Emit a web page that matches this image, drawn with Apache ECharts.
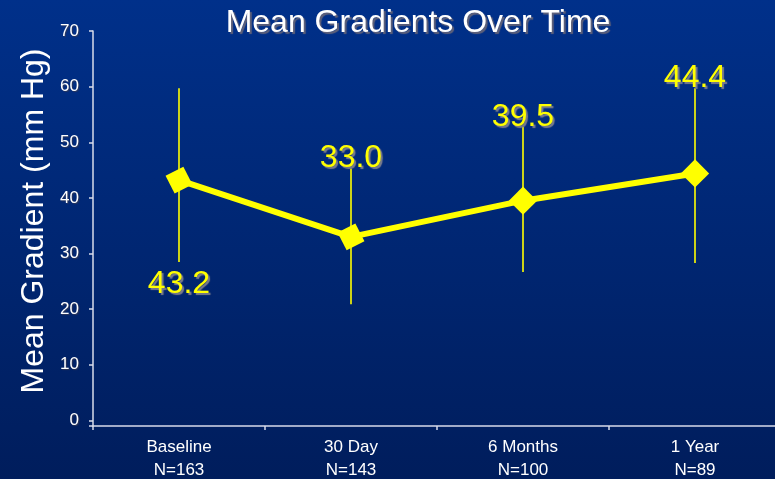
<!DOCTYPE html>
<html>
<head>
<meta charset="utf-8">
<script src="https://cdn.jsdelivr.net/npm/echarts@6/dist/echarts.min.js"></script>
<style>
  html, body { margin: 0; padding: 0; background: #00266f; }
  #chart { width: 775px; height: 479px; }
</style>
</head>
<body>
<div id="chart"></div>
<script>
// Visit categories (two-line axis labels) and patient counts
const visits = ['Baseline', '30 Day', '6 Months', '1 Year'];
const counts = ['N=163', 'N=143', 'N=100', 'N=89'];

// Mean gradient (mm Hg) and the ends of each error bar
const meanGradient = [43.2, 33.0, 39.5, 44.4];
const barLow  = [28.5, 20.9, 26.7, 28.3];
const barHigh = [59.7, 45.3, 52.8, 59.7];

// Y axis tick values
const yTicks = [0, 10, 20, 30, 40, 50, 60, 70];

const YELLOW = '#FFFF00';
const FONT = '"Liberation Sans", Arial, sans-serif';

const categoryLabels = visits.map((v, i) => v + '\n' + counts[i]);
const errorData = visits.map((v, i) => [i, barLow[i], barHigh[i], meanGradient[i]]);

// marker tilt follows the line a little
const markerTilt = [27, 27, 45, 45];
// value label sits under the bar for the first visit, above for the others
const labelBelow = [true, false, false, false];

const chart = echarts.init(document.getElementById('chart'), null, { renderer: 'canvas' });

chart.setOption({
  animation: false,
  backgroundColor: {
    type: 'linear', x: 0, y: 0, x2: 0, y2: 1,
    colorStops: [
      { offset: 0, color: '#00308A' },
      { offset: 1, color: '#001D5C' }
    ]
  },
  grid: {
    left: 93, width: 688, top: 31, bottom: 53,
    containLabel: false, outerBoundsMode: 'none'
  },
  graphic: [
    {
      type: 'text',
      x: 418, y: 23,
      style: {
        text: 'Mean Gradients Over Time',
        fill: '#FFFFFF',
        font: '32px ' + FONT,
        textAlign: 'center',
        textVerticalAlign: 'middle',
        textShadowColor: 'rgba(100,100,120,0.95)',
        textShadowOffsetX: 2, textShadowOffsetY: 2, textShadowBlur: 1
      }
    },
    {
      type: 'text',
      x: 34, y: 221,
      rotation: Math.PI / 2,
      style: {
        text: 'Mean Gradient (mm Hg)',
        fill: '#FFFFFF',
        font: '32px ' + FONT,
        textAlign: 'center',
        textVerticalAlign: 'middle'
      }
    }
  ],
  xAxis: {
    type: 'category',
    data: categoryLabels,
    boundaryGap: true,
    axisLine: { onZero: false, lineStyle: { color: '#D8DCEA', width: 1.5 } },
    axisTick: { show: true, length: 4, lineStyle: { color: '#D8DCEA', width: 1.5 } },
    axisLabel: {
      color: '#FFFFFF',
      fontFamily: FONT,
      fontSize: 17,
      lineHeight: 23,
      margin: 10,
      interval: 0
    },
    splitLine: { show: false }
  },
  yAxis: {
    type: 'value',
    min: -1,
    max: 70,
    axisLine: { show: true, lineStyle: { color: '#D8DCEA', width: 1.5 } },
    axisTick: {
      show: true, length: 4, customValues: [-1].concat(yTicks),
      lineStyle: { color: '#D8DCEA', width: 1.5 }
    },
    axisLabel: {
      customValues: yTicks,
      color: '#FFFFFF',
      fontFamily: FONT,
      fontSize: 17,
      margin: 14,
      textShadowColor: 'rgba(60,60,80,0.8)',
      textShadowOffsetX: 1, textShadowOffsetY: 1, textShadowBlur: 1
    },
    splitLine: { show: false }
  },
  series: [
    {
      name: 'Range',
      type: 'custom',
      data: errorData,
      z: 1,
      renderItem: function (params, api) {
        const i = api.value(0);
        const lo = api.coord([i, api.value(1)]);
        const hi = api.coord([i, api.value(2)]);
        const mean = api.value(3);
        const below = labelBelow[params.dataIndex];
        return {
          type: 'group',
          children: [
            {
              type: 'line',
              shape: { x1: hi[0], y1: hi[1], x2: lo[0], y2: lo[1] },
              style: { stroke: YELLOW, lineWidth: 1.6 }
            },
            {
              type: 'text',
              z2: 10,
              style: {
                text: mean.toFixed(1),
                x: hi[0],
                y: below ? lo[1] + 22 : hi[1] - 10,
                fill: YELLOW,
                font: '32px ' + FONT,
                textAlign: 'center',
                textVerticalAlign: 'middle',
                textShadowColor: 'rgba(130,130,140,0.95)',
                textShadowOffsetX: 2, textShadowOffsetY: 2, textShadowBlur: 1
              }
            }
          ]
        };
      }
    },
    {
      name: 'Mean Gradient',
      type: 'line',
      data: meanGradient,
      z: 3,
      lineStyle: { color: YELLOW, width: 6 },
      itemStyle: { color: YELLOW, borderWidth: 0 },
      symbol: 'rect',
      symbolSize: 20,
      symbolRotate: function (value, params) { return markerTilt[params.dataIndex]; },
      showAllSymbol: true,
      label: { show: false }
    }
  ]
});
</script>
</body>
</html>
